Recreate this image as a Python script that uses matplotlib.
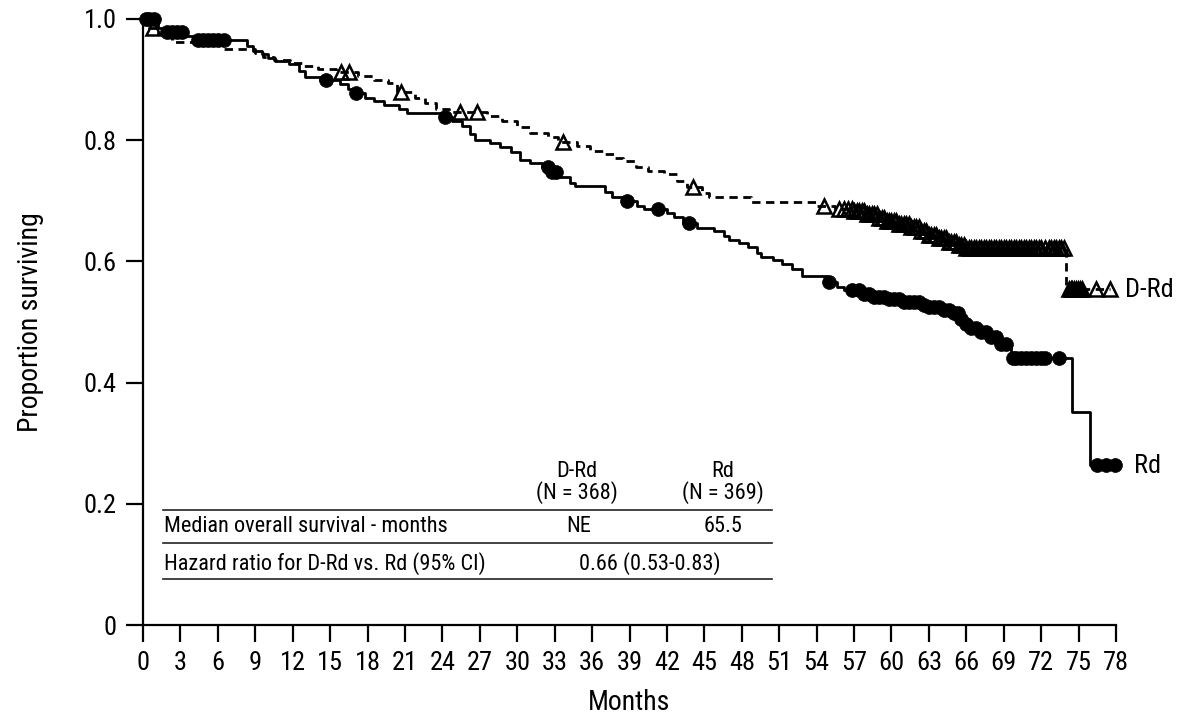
import numpy as np
import matplotlib
matplotlib.use('Agg')
import matplotlib.pyplot as plt
from matplotlib import font_manager

# pick a narrow font if there is one
names = {f.name for f in font_manager.fontManager.ttflist}
font = 'DejaVu Sans'
for cand in ['Liberation Sans Narrow', 'Roboto Condensed', 'Arial Narrow']:
    if cand in names:
        font = cand
        break
plt.rcParams['font.family'] = [font, 'DejaVu Sans']

# Rd (solid) Kaplan-Meier steps: time (months), survival after the step
rd_time = [0, 1.2, 1.8, 3.4, 4.0, 8.3, 8.8, 9.5, 10.0, 10.6, 11.7, 12.5, 13.0,
           14.2, 15.8, 16.4, 17.0, 17.8, 18.5, 19.3, 20.5, 21.2, 24.0, 24.8,
           25.6, 26.2, 26.6, 27.8, 28.6, 29.5, 30.2, 31.0, 32.0, 32.8, 33.2,
           34.2, 34.6, 37.0, 37.6, 38.6, 39.6, 40.2, 42.0, 42.6, 43.3, 44.4,
           45.8, 46.6, 47.0, 47.8, 48.5, 49.2, 49.5, 50.5, 51.2, 52.0, 52.8,
           54.8, 55.6, 56.2, 57.5, 58.5, 59.5, 61.0, 62.3, 63.0, 64.0, 65.0,
           65.4, 65.8, 66.3, 67.0, 68.0, 68.8, 69.6, 74.5, 75.9]
rd_surv = [1.0, 0.985, 0.978, 0.972, 0.965, 0.955, 0.948, 0.942, 0.935, 0.930,
           0.925, 0.915, 0.905, 0.900, 0.893, 0.885, 0.878, 0.870, 0.864,
           0.858, 0.852, 0.845, 0.838, 0.832, 0.823, 0.810, 0.800, 0.795,
           0.788, 0.780, 0.768, 0.762, 0.756, 0.748, 0.740, 0.730, 0.724,
           0.715, 0.706, 0.700, 0.692, 0.686, 0.680, 0.673, 0.663, 0.655,
           0.650, 0.642, 0.636, 0.630, 0.624, 0.614, 0.607, 0.602, 0.596,
           0.588, 0.576, 0.566, 0.558, 0.552, 0.546, 0.541, 0.538, 0.533,
           0.528, 0.524, 0.520, 0.515, 0.505, 0.497, 0.490, 0.483, 0.476,
           0.463, 0.441, 0.352, 0.264]
rd_end = 77.9
rd_censor = [0.2, 0.5, 0.9, 1.9, 2.3, 2.7, 3.1, 4.4, 4.8, 5.2, 5.6, 6.0, 6.5,
             14.7, 17.1, 24.2, 32.5, 32.8, 33.1, 38.8, 41.3, 43.8, 55.0, 56.8,
             57.4, 57.8, 58.2, 58.6, 59.0, 59.4, 59.8, 60.2, 60.6, 61.0, 61.4,
             61.8, 62.2, 62.6, 63.0, 63.4, 63.8, 64.2, 64.6, 65.0, 65.3, 65.6,
             66.0, 66.4, 66.8, 67.2, 67.6, 68.0, 68.4, 68.8, 69.2, 69.7, 70.0,
             70.4, 70.8, 71.2, 71.6, 72.0, 72.3, 73.4, 76.5, 77.2, 77.9]

# D-Rd (dashed)
drd_time = [0, 0.5, 1.2, 2.3, 6.5, 9.0, 9.6, 10.5, 11.8, 12.8, 14.0, 15.5,
            17.2, 18.5, 19.6, 20.4, 21.8, 22.6, 23.5, 24.5, 27.6, 28.8, 30.0,
            31.0, 32.5, 33.3, 34.8, 35.8, 37.0, 37.8, 38.5, 39.5, 40.5, 41.8,
            42.8, 43.6, 44.8, 45.4, 48.7, 54.0, 55.5, 57.0, 58.0, 59.0, 59.6,
            60.5, 61.5, 62.3, 63.0, 63.8, 64.6, 65.4, 66.0, 74.0]
drd_surv = [1.0, 0.985, 0.975, 0.962, 0.950, 0.944, 0.938, 0.933, 0.928,
            0.922, 0.917, 0.912, 0.906, 0.900, 0.895, 0.880, 0.870, 0.862,
            0.852, 0.846, 0.840, 0.832, 0.822, 0.812, 0.805, 0.797, 0.790,
            0.782, 0.777, 0.770, 0.765, 0.756, 0.750, 0.744, 0.732, 0.722,
            0.713, 0.706, 0.698, 0.692, 0.687, 0.683, 0.678, 0.672, 0.667,
            0.662, 0.656, 0.650, 0.644, 0.638, 0.632, 0.627, 0.622, 0.554]
drd_end = 77.5
drd_censor = [0.8, 15.9, 16.5, 20.7, 25.4, 26.8, 33.7, 44.1, 54.6, 55.8, 56.2,
              56.5, 56.8, 57.0, 57.2, 57.4, 57.6, 57.8, 58.0, 58.2, 58.4, 58.6,
              58.8, 59.0, 59.2, 59.4, 59.6, 59.8, 60.0, 60.2, 60.4, 60.6, 60.8,
              61.0, 61.2, 61.4, 61.6, 61.8, 62.0, 62.2, 62.4, 62.6, 62.8, 63.0,
              63.2, 63.4, 63.6, 63.8, 64.0, 64.2, 64.4, 64.6, 64.8, 65.0, 65.2,
              65.4, 65.6, 65.8, 66.0, 66.2, 66.4, 66.6, 66.8, 67.0, 67.2, 67.4,
              67.6, 67.8, 68.0, 68.2, 68.4, 68.6, 68.8, 69.0, 69.2, 69.4, 69.6,
              69.8, 70.0, 70.2, 70.4, 70.6, 70.8, 71.0, 71.2, 71.4, 71.6, 71.8,
              72.0, 72.3, 72.6, 72.8, 73.0, 73.2, 73.4, 73.6, 73.8, 74.2, 74.35,
              74.5, 74.65, 74.8, 74.95, 75.1, 75.3, 76.4, 77.5]

x_ticks = list(range(0, 79, 3))
y_ticks = [0, 0.2, 0.4, 0.6, 0.8, 1.0]
y_ticklabels = ['0', '0.2', '0.4', '0.6', '0.8', '1.0']


def surv_at(times, surv, t):
    idx = np.searchsorted(times, t, side='right') - 1
    return np.asarray(surv)[idx]


fig = plt.figure(figsize=(11.79, 7.22), dpi=100)
ax = fig.add_axes([0.1213, 0.1343, 0.8253, 0.8394])

# curves
ax.step(rd_time + [rd_end], rd_surv + [rd_surv[-1]], where='post',
        color='black', lw=2.0, clip_on=False)
ax.step(drd_time + [drd_end], drd_surv + [drd_surv[-1]], where='post',
        color='black', lw=2.0, dashes=(3, 2), clip_on=False)

# censor marks
ax.plot(rd_censor, surv_at(rd_time, rd_surv, rd_censor), 'o', color='black',
        ms=10, mew=0.5, clip_on=False, zorder=3)
ax.plot(drd_censor, surv_at(drd_time, drd_surv, drd_censor), '^',
        mfc='none', mec='black', ms=10, mew=1.8, clip_on=False, zorder=3)

# curve labels
ax.text(78.7, 0.553, 'D-Rd', fontsize=19, va='center', ha='left')
ax.text(79.4, 0.262, 'Rd', fontsize=19, va='center', ha='left')

# summary table
tfs = 16
for yl in [0.190, 0.135, 0.076]:
    ax.plot([1.6, 50.4], [yl, yl], color='#222222', lw=1.2)
ax.text(34.8, 0.253, 'D-Rd', fontsize=tfs, ha='center', va='center')
ax.text(34.8, 0.218, '(N = 368)', fontsize=tfs, ha='center', va='center')
ax.text(46.5, 0.253, 'Rd', fontsize=tfs, ha='center', va='center')
ax.text(46.5, 0.218, '(N = 369)', fontsize=tfs, ha='center', va='center')
ax.text(1.7, 0.162, 'Median overall survival - months', fontsize=tfs,
        ha='left', va='center')
ax.text(34.95, 0.162, 'NE', fontsize=tfs, ha='center', va='center')
ax.text(46.5, 0.162, '65.5', fontsize=tfs, ha='center', va='center')
ax.text(1.7, 0.102, 'Hazard ratio for D-Rd vs. Rd (95% CI)', fontsize=tfs,
        ha='left', va='center')
ax.text(40.6, 0.102, '0.66 (0.53-0.83)', fontsize=tfs, ha='center',
        va='center')

# axes styling
ax.set_xlim(0, 78)
ax.set_ylim(0, 1.0)
ax.set_xticks(x_ticks)
ax.set_yticks(y_ticks)
ax.set_yticklabels(y_ticklabels)
ax.spines['top'].set_visible(False)
ax.spines['right'].set_visible(False)
ax.spines['left'].set_linewidth(1.6)
ax.spines['bottom'].set_linewidth(1.6)
ax.tick_params(axis='both', direction='out', length=12, width=1.6,
               labelsize=19)
ax.tick_params(axis='x', pad=7)
ax.tick_params(axis='y', pad=7)
ax.set_xlabel('Months', fontsize=20, labelpad=10)
ax.set_ylabel('Proportion surviving', fontsize=20)
ax.yaxis.set_label_coords(-0.102, 0.5)

fig.savefig('out.png', dpi=100)
